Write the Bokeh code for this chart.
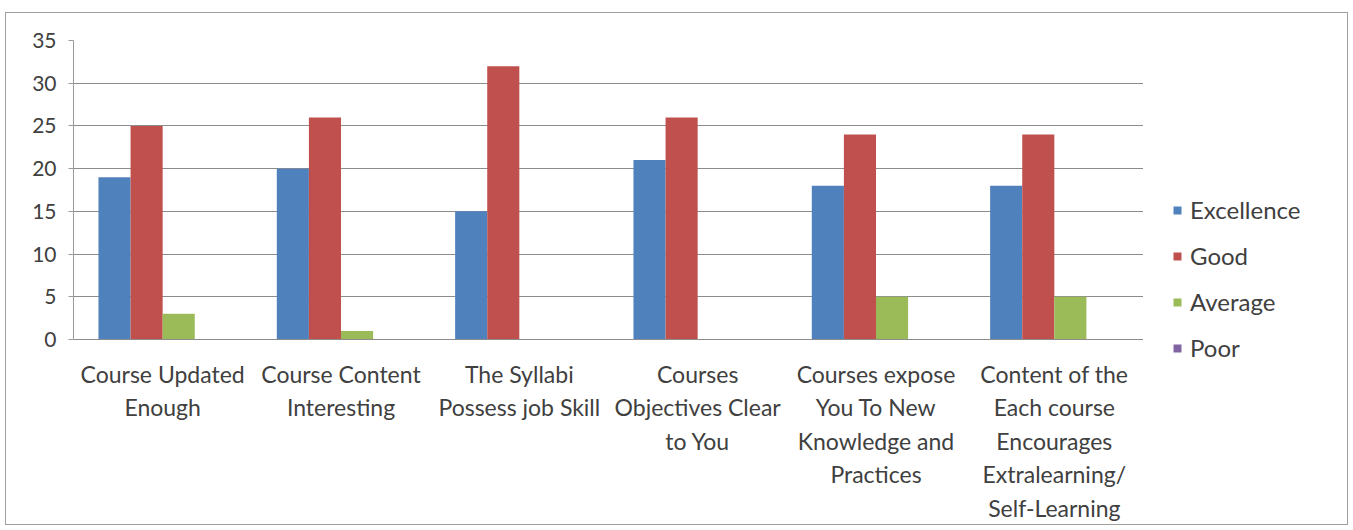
from bokeh.plotting import figure
from bokeh.layouts import row
from bokeh.models import ColumnDataSource, FactorRange, Range1d, SingleIntervalTicker, Legend, LegendItem
from bokeh.transform import dodge
from bokeh.embed import file_html
from bokeh.resources import INLINE

categories = [
    "Course Updated\nEnough",
    "Course Content\nInteresting",
    "The Syllabi\nPossess job Skill",
    "Courses\nObjectives Clear\nto You",
    "Courses expose\nYou To New\nKnowledge and\nPractices",
    "Content of the\nEach course\nEncourages\nExtralearning/\nSelf-Learning",
]
series_names = ["Excellence", "Good", "Average", "Poor"]
excellence = [19, 20, 15, 21, 18, 18]
good = [25, 26, 32, 26, 24, 24]
average = [3, 1, 0, 0, 5, 5]
poor = [0, 0, 0, 0, 0, 0]
colors = ["#4F81BD", "#C0504D", "#9BBB59", "#8064A2"]

FONT = "Lato"
TXT = "#404040"

src = ColumnDataSource(dict(cat=categories, Excellence=excellence, Good=good,
                            Average=average, Poor=poor))

p = figure(x_range=FactorRange(*categories, range_padding=0), y_range=Range1d(0, 35),
           width=1137, height=511, output_backend="svg", toolbar_location=None,
           min_border_left=67, min_border_right=0, min_border_top=27, min_border_bottom=180)
p.outline_line_color = None
p.frame_align = False

bw = 0.18
offsets = [-1.5 * bw, -0.5 * bw, 0.5 * bw, 1.5 * bw]
for name, col, off in zip(series_names, colors, offsets):
    p.vbar(x=dodge("cat", off, range=p.x_range), top=name, width=bw, source=src,
           fill_color=col, line_color=None)

p.yaxis.ticker = SingleIntervalTicker(interval=5)
p.ygrid.grid_line_color = "#8c8c8c"
p.xgrid.grid_line_color = None
p.yaxis.axis_line_color = "#9a9a9a"
p.yaxis.major_tick_line_color = "#9a9a9a"
p.yaxis.major_tick_out = 5
p.yaxis.major_tick_in = 0
p.yaxis.minor_tick_line_color = None
p.yaxis.major_label_text_font = FONT
p.yaxis.major_label_text_font_size = "21px"
p.yaxis.major_label_text_color = TXT
p.yaxis.major_label_standoff = 12

p.xaxis.axis_line_color = "#8c8c8c"
p.xaxis.major_tick_line_color = None
p.xaxis.major_label_text_font = FONT
p.xaxis.major_label_text_font_size = "23px"
p.xaxis.major_label_text_color = TXT
p.xaxis.major_label_standoff = 14

# legend panel to the right of the plot area
lg = figure(x_range=FactorRange(*categories), y_range=Range1d(0, 35),
            width=204, height=511, output_backend="svg", toolbar_location=None,
            x_axis_type=None, y_axis_type=None,
            min_border_left=0, min_border_right=0, min_border_top=0, min_border_bottom=0)
lg.outline_line_color = None
lg.grid.grid_line_color = None
lg.frame_align = False
items = []
for name, col in zip(series_names, colors):
    r = lg.vbar(x="cat", top=name, width=bw, source=src, fill_color=col, line_color=None)
    r.visible = False
    items.append(LegendItem(label=name, renderers=[r]))
legend = Legend(items=items, location=(29, 162), padding=0, margin=0,
                spacing=17, glyph_width=10, glyph_height=10, label_height=24,
                label_standoff=8,
                label_text_font=FONT, label_text_font_size="24px", label_text_color=TXT,
                border_line_color=None, background_fill_alpha=0)
lg.add_layout(legend, "center")

layout = row(p, lg)
layout.styles = {"border": "1px solid #a0a0a0", "margin-left": "5px", "margin-top": "12px",
                 "background": "white"}

open("out.html", "w").write(file_html(layout, INLINE))
